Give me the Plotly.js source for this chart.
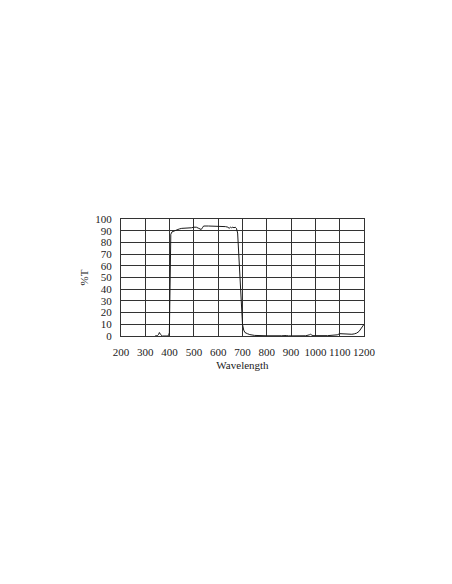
<!DOCTYPE html>
<html>
<head>
<meta charset="utf-8">
<script src="https://cdn.plot.ly/plotly-3.0.1.min.js"></script>
<style>
  html, body { margin: 0; padding: 0; background: #fff; }
  #chart { width: 452px; height: 584px; }
</style>
</head>
<body>
<div id="chart"></div>
<script>
// 透过率曲线
const wavelength = [
    340, 350, 355, 358, 362, 366, 370, 390, 396, 399, 401, 403, 405, 410, 420, 430, 440,
    450, 460, 470, 480, 490, 500, 510, 520, 530, 535, 540, 560, 580, 600, 620, 630,
    640, 645, 650, 655, 660, 665, 670, 675, 680, 685, 690, 695, 700, 705, 710, 720,
    730, 750, 780, 800, 860, 870, 880, 890, 960, 975, 980, 985, 990, 1050, 1070,
    1090, 1100, 1110, 1130, 1150, 1160, 1170, 1180, 1190, 1195, 1200
];
const transmission = [
    0, 0.3, 1.5, 3, 1.5, 0.2, 0, 0, 0.5, 3, 40, 75, 87, 89, 90, 91, 91.5,
    92, 92, 92.5, 92.5, 92.5, 93, 93, 92, 91, 92.5, 94, 94, 94, 94, 93.5, 93.5,
    93, 92, 93, 92.5, 93, 92.5, 93, 92, 88, 70, 45, 25, 10, 5, 3, 2,
    1.2, 0.5, 0.2, 0.2, 0.2, 0.5, 0.4, 0.1, 0.2, 1, 1.5, 0.8, 0.3, 0.3, 0.5,
    1, 2, 1.8, 1.5, 1.5, 1.8, 2.5, 4, 6.5, 8.5, 10
];

const xTicks = [200, 300, 400, 500, 600, 700, 800, 900, 1000, 1100, 1200];
const yTicks = [0, 10, 20, 30, 40, 50, 60, 70, 80, 90, 100];

const font = { family: 'Liberation Serif, DejaVu Serif, serif', size: 11, color: '#222' };

const trace = {
    x: wavelength,
    y: transmission,
    type: 'scatter',
    mode: 'lines',
    line: { color: '#1a1a1a', width: 1 },
    hoverinfo: 'skip'
};

const layout = {
    width: 452,
    height: 584,
    margin: { l: 121, r: 88, t: 219, b: 248 },
    paper_bgcolor: '#fff',
    plot_bgcolor: '#fff',
    font: font,
    showlegend: false,
    xaxis: {
        range: [200, 1200],
        tickvals: xTicks,
        ticktext: xTicks.map(String),
        ticks: '',
        ticklabelstandoff: 6,
        showgrid: true,
        gridcolor: '#333',
        gridwidth: 1,
        zeroline: false,
        showline: true,
        linecolor: '#333',
        linewidth: 1,
        mirror: true,
        title: { text: 'Wavelength', font: font, standoff: 4 }
    },
    yaxis: {
        range: [0, 100],
        tickvals: yTicks,
        ticktext: yTicks.map(String),
        ticks: '',
        ticklabelstandoff: 6,
        showgrid: true,
        gridcolor: '#333',
        gridwidth: 1,
        zeroline: false,
        showline: true,
        linecolor: '#333',
        linewidth: 1,
        mirror: true,
        title: { text: '%T', font: font, standoff: 4 }
    }
};

Plotly.newPlot('chart', [trace], layout, { displayModeBar: false, staticPlot: true });
</script>
</body>
</html>
